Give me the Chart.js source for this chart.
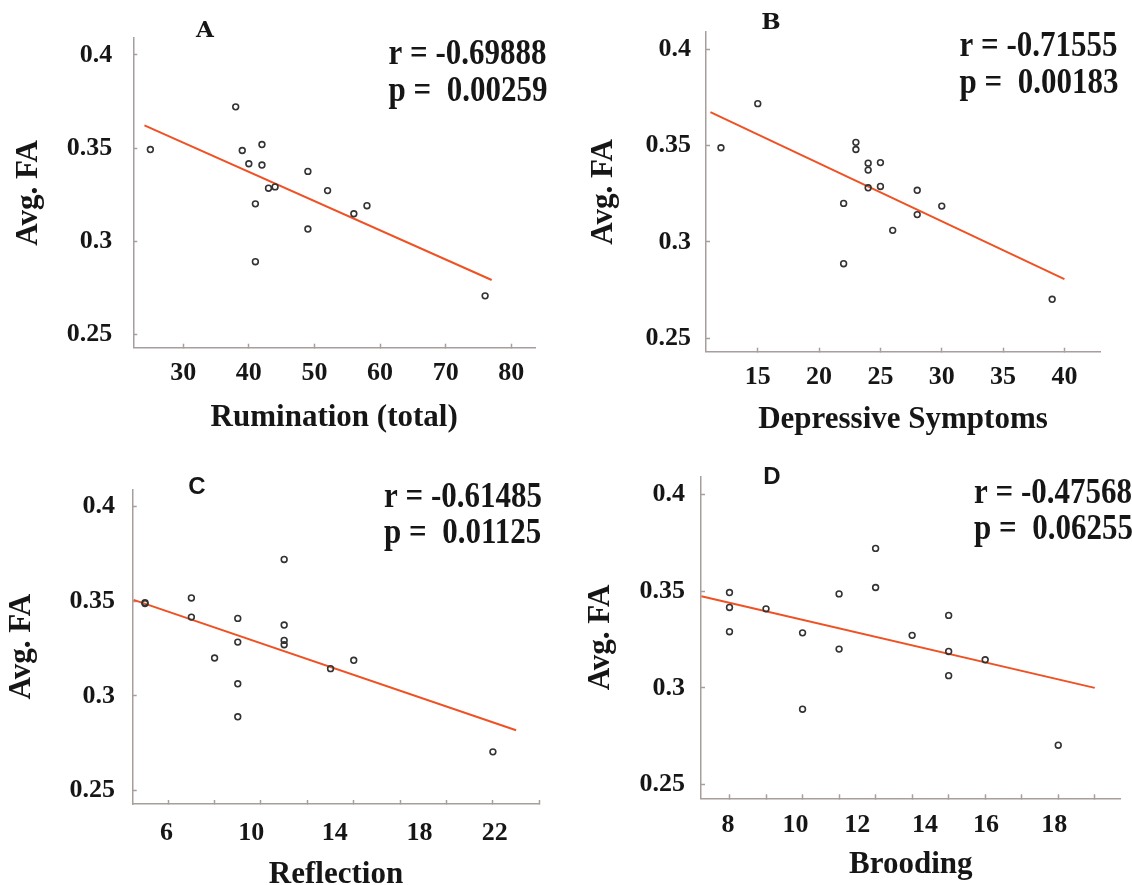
<!DOCTYPE html>
<html lang="en">
<head>
<meta charset="UTF-8" />
<title>Avg. FA vs rumination</title>
<style>
  html, body { margin: 0; padding: 0; background: #fff; }
  #wrap { position: relative; width: 1132px; height: 885px; overflow: hidden; }
  canvas { position: absolute; }
</style>
</head>
<body>
<div id="wrap">
  <canvas id="chartA" width="566" height="442" style="left:0;top:0"></canvas>
  <canvas id="chartB" width="566" height="442" style="left:566px;top:0"></canvas>
  <canvas id="chartC" width="566" height="460" style="left:0;top:442px"></canvas>
  <canvas id="chartD" width="566" height="460" style="left:566px;top:442px"></canvas>
</div>
<script src="https://cdn.jsdelivr.net/npm/chart.js@4.4.1/dist/chart.umd.min.js"></script>
<script>
  // y axis shared by all four panels
  const faTicks = [0.25, 0.3, 0.35, 0.4];

  // A: rumination total
  const ruminationTotal = [25, 38, 39, 40, 42, 42, 43, 44, 41, 41, 49, 49, 52, 56, 58, 76];
  const faA = [0.3492, 0.3721, 0.3487, 0.3416, 0.3519, 0.3409, 0.3285, 0.3292, 0.3201, 0.2891, 0.3375, 0.3066, 0.3272, 0.3148, 0.3191, 0.2708];
  const fitAx = [24.1, 77.0];
  const fitAy = [0.3622, 0.2793];
  const ruminationTicks = [30, 40, 50, 60, 70, 80];

  // B: depressive symptoms
  const depressive = [12, 15, 23, 23, 24, 24, 25, 24, 25, 22, 22, 28, 28, 26, 30, 39];
  const faB = [0.3489, 0.3718, 0.3517, 0.348, 0.3409, 0.3373, 0.3412, 0.3281, 0.3288, 0.32, 0.2887, 0.3268, 0.3142, 0.306, 0.3186, 0.2702];
  const fitBx = [11.14, 40];
  const fitBy = [0.3674, 0.2807];
  const depressiveTicks = [15, 20, 25, 30, 35, 40];

  // C: reflection
  const reflection = [5, 5, 7, 7, 9, 9, 8, 9, 9, 11, 11, 11, 11, 13, 14, 20];
  const faC = [0.3492, 0.3487, 0.3517, 0.3416, 0.3409, 0.3284, 0.32, 0.3064, 0.289, 0.372, 0.3374, 0.3293, 0.327, 0.3144, 0.3188, 0.2705];
  const fitCx = [4.51, 21.0];
  const fitCy = [0.3507, 0.2819];
  const reflectionTicks = [6, 8, 10, 12, 14, 16, 18, 20, 22];
  const reflectionLabels = ['6', '10', '14', '18', '22'];

  // D: brooding
  const brooding = [8, 8, 8, 9, 10, 10, 11, 11, 12, 12, 13, 14, 14, 14, 15, 17];
  const faD = [0.3492, 0.3415, 0.329, 0.3408, 0.3284, 0.289, 0.3485, 0.32, 0.372, 0.3518, 0.3271, 0.3374, 0.3188, 0.3063, 0.3145, 0.2704];
  const fitDx = [7.23, 18.0];
  const fitDy = [0.3473, 0.300];
  const broodingTicks = [8, 9, 10, 11, 12, 13, 14, 15, 16, 17, 18];
  const broodingLabels = ['8', '10', '12', '14', '16', '18'];

  const ink = '#161616';
  const axisGray = '#a89e9e';
  const serif = '"Liberation Serif", "Times New Roman", serif';
  const tickFont = { family: serif, size: 26, weight: 'bold', lineHeight: 1 };
  const titleFont = { family: serif, size: 31, weight: 'bold', lineHeight: 1 };

  // text a bit taller than wide, like the scanned figure
  function tallText(ctx, text, x, y, sy) {
    ctx.save();
    ctx.translate(x, y);
    ctx.scale(1, sy);
    ctx.fillText(text, 0, 0);
    ctx.restore();
  }

  // panel letter and r / p values
  const panelText = {
    id: 'panelText',
    afterDraw(chart, args, o) {
      const ctx = chart.ctx;
      ctx.save();
      ctx.fillStyle = ink;
      ctx.textBaseline = 'middle';
      ctx.textAlign = 'center';
      ctx.font = o.letterFont;
      ctx.fillText(o.letter, o.letterX, o.letterY);
      ctx.textAlign = 'left';
      ctx.font = 'bold 31px ' + serif;
      tallText(ctx, o.r, o.statX, o.rY, 1.15);
      tallText(ctx, o.p, o.statX, o.pY, 1.15);
      ctx.restore();
    }
  };

  const toPoints = (xs, ys) => xs.map((x, i) => ({ x, y: ys[i] }));

  function makePanel(id, p) {
    const canvas = document.getElementById(id);
    const W = canvas.width, H = canvas.height;
    const [left, top, right, bottom] = p.area;
    return new Chart(canvas, {
      type: 'scatter',
      data: {
        datasets: [
          {
            data: toPoints(p.xs, p.ys),
            pointRadius: 2.9,
            borderWidth: 1.6,
            borderColor: '#333',
            backgroundColor: 'rgba(0,0,0,0)'
          },
          {
            data: toPoints(p.fitX, p.fitY),
            showLine: true,
            pointRadius: 0,
            borderColor: '#ef5123',
            borderWidth: 2
          }
        ]
      },
      options: {
        responsive: false,
        animation: false,
        devicePixelRatio: 1,
        layout: { padding: { left: 0, top: top, right: W - right, bottom: 0 } },
        plugins: {
          legend: { display: false },
          tooltip: { enabled: false },
          panelText: p.text
        },
        scales: {
          x: {
            type: 'linear',
            min: p.xMin,
            max: p.xMax,
            bounds: 'data',
            afterFit: s => { s.height = H - bottom; },
            afterBuildTicks: s => {
              s.ticks = p.marks.map(v => ({ value: v, mark: true }))
                .concat(p.labelAt.map((v, i) => ({ value: v, text: p.labels[i] })));
            },
            ticks: {
              autoSkip: false, maxRotation: 0, padding: p.xPad, color: ink, font: tickFont,
              callback: (v, i, t) => t[i].text || ''
            },
            grid: {
              drawOnChartArea: false, tickLength: -4, tickWidth: 1.5,
              tickColor: c => (c.tick && c.tick.mark ? axisGray : 'rgba(0,0,0,0)')
            },
            border: { color: axisGray, width: 1.5 },
            title: { display: true, text: p.xTitle, color: ink, font: titleFont, padding: { top: 0, bottom: p.xTitlePad } }
          },
          y: {
            type: 'linear',
            min: 0.243,
            max: 0.409,
            bounds: 'data',
            afterFit: s => { s.width = left; },
            afterBuildTicks: s => { s.ticks = faTicks.map(v => ({ value: v })); },
            ticks: { padding: p.yPad, color: ink, font: tickFont, callback: v => String(v) },
            grid: { drawOnChartArea: false, tickLength: -4, tickWidth: 1.5, tickColor: axisGray },
            border: { color: axisGray, width: 1.5 },
            title: { display: true, text: 'Avg. FA', color: ink, font: titleFont, padding: { top: p.yTitlePad, bottom: 0 } }
          }
        }
      },
      plugins: [panelText]
    });
  }

  const slabLetter = 'bold 23px "DejaVu Serif", "Courier New", serif';
  const sansLetter = 'bold 24px "Liberation Sans", Arial, sans-serif';

  makePanel('chartA', {
    xs: ruminationTotal, ys: faA, fitX: fitAx, fitY: fitAy,
    xMin: 22.4, xMax: 83.6, marks: ruminationTicks, labelAt: ruminationTicks,
    labels: ruminationTicks.map(String), xTitle: 'Rumination (total)',
    area: [133.3, 36, 535, 347.7], xPad: 16.6, yPad: 25, xTitlePad: 8.5, yTitlePad: 13.5,
    text: { letter: 'A', letterFont: slabLetter, letterX: 205, letterY: 31,
      r: 'r = -0.69888', p: 'p =  0.00259', statX: 388.5, rY: 55, pY: 92 }
  });

  makePanel('chartB', {
    xs: depressive, ys: faB, fitX: fitBx, fitY: fitBy,
    xMin: 10.78, xMax: 42.9, marks: depressiveTicks, labelAt: depressiveTicks,
    labels: depressiveTicks.map(String), xTitle: 'Depressive Symptoms',
    area: [140, 26, 534, 351.7], xPad: 17, yPad: 19, xTitlePad: 6.5, yTitlePad: 22.5,
    text: { letter: 'B', letterFont: slabLetter, letterX: 205, letterY: 23,
      r: 'r = -0.71555', p: 'p =  0.00183', statX: 393.5, rY: 47, pY: 84 }
  });

  makePanel('chartC', {
    xs: reflection, ys: faC, fitX: fitCx, fitY: fitCy,
    xMin: 4.47, xMax: 22, marks: reflectionTicks, labelAt: [5.93, 9.58, 13.18, 16.84, 20.08],
    labels: reflectionLabels, xTitle: 'Reflection',
    area: [132.7, 47.3, 539.3, 362], xPad: 20, yPad: 21.7, xTitlePad: 11.5, yTitlePad: 6.5,
    text: { letter: 'C', letterFont: sansLetter, letterX: 197, letterY: 45,
      r: 'r = -0.61485', p: 'p =  0.01125', statX: 384, rY: 56, pY: 92 }
  });

  makePanel('chartD', {
    xs: brooding, ys: faD, fitX: fitDx, fitY: fitDy,
    xMin: 7.22, xMax: 18.71, marks: broodingTicks, labelAt: [7.96, 9.81, 11.5, 13.35, 15.02, 16.89],
    labels: broodingLabels, xTitle: 'Brooding',
    area: [135, 34.7, 554.7, 356.3], xPad: 17.7, yPad: 20, xTitlePad: 21.5, yTitlePad: 19.2,
    text: { letter: 'D', letterFont: sansLetter, letterX: 206, letterY: 35,
      r: 'r = -0.47568', p: 'p =  0.06255', statX: 408, rY: 52, pY: 88 }
  });
</script>
</body>
</html>
